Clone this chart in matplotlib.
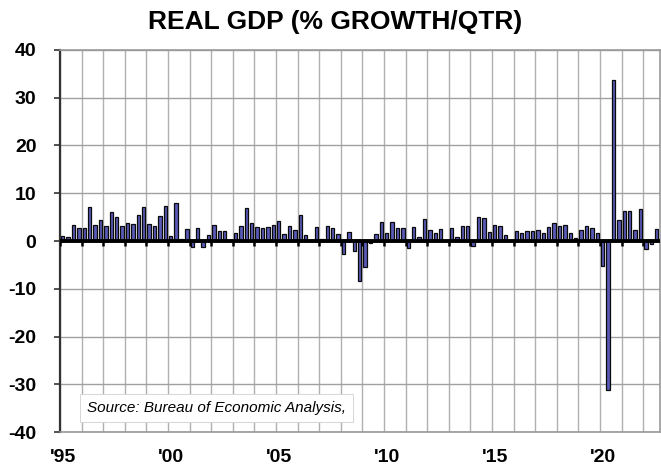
import numpy as np
import pandas as pd
import matplotlib
matplotlib.use("Agg")
import matplotlib.pyplot as plt

plt.rcParams['font.family'] = ['Liberation Sans', 'DejaVu Sans']

# Real GDP, % growth per quarter (annualized), 1995Q1 - 2022Q3
start_quarter = "1995Q1"
gdp_growth = [
    1.0, 0.8, 3.4, 2.8,      # 1995
    2.8, 7.1, 3.4, 4.5,      # 1996
    3.1, 6.0, 5.1, 3.1,      # 1997
    3.8, 3.6, 5.4, 7.1,      # 1998
    3.6, 3.2, 5.2, 7.4,      # 1999
    1.1, 7.9, 0.4, 2.5,      # 2000
    -1.3, 2.7, -1.3, 1.3,    # 2001
    3.4, 2.1, 2.0, 0.3,      # 2002
    1.6, 3.1, 6.9, 3.7,      # 2003
    2.9, 2.8, 2.9, 3.4,      # 2004
    4.1, 1.5, 3.1, 2.2,      # 2005
    5.4, 1.2, 0.3, 2.9,      # 2006
    0.4, 3.1, 2.7, 1.4,      # 2007
    -2.7, 1.9, -2.0, -8.3,   # 2008
    -5.5, -0.5, 1.4, 4.0,    # 2009
    1.7, 4.0, 2.8, 2.8,      # 2010
    -1.5, 3.0, 0.8, 4.6,     # 2011
    2.3, 1.6, 2.5, 0.1,      # 2012
    2.8, 0.8, 3.1, 3.1,      # 2013
    -1.1, 5.1, 4.9, 1.8,     # 2014
    3.3, 3.2, 1.3, 0.2,      # 2015
    2.0, 1.7, 2.1, 2.0,      # 2016
    2.3, 1.6, 2.9, 3.8,      # 2017
    3.1, 3.4, 1.7, 0.7,      # 2018
    2.4, 3.1, 2.7, 1.7,      # 2019
    -5.2, -31.2, 33.8, 4.4,  # 2020
    6.2, 6.3, 2.2, 6.8,      # 2021
    -1.6, -0.6, 2.6,         # 2022
]
label_years = [1995, 2000, 2005, 2010, 2015, 2020]
tick_labels = ["'95", "'00", "'05", "'10", "'15", "'20"]
y_ticks = [-40, -30, -20, -10, 0, 10, 20, 30, 40]
title = "REAL GDP (% GROWTH/QTR)"
source = "Source: Bureau of Economic Analysis,"

periods = pd.period_range(start_quarter, periods=len(gdp_growth), freq="Q")
x = np.array([p.year + (p.quarter - 1) / 4 + 0.125 for p in periods])

fig = plt.figure(figsize=(6.61, 4.65), dpi=100)
ax = fig.add_axes([60 / 661, 1 - 432 / 465, 600 / 661, 382 / 465])

ax.bar(x, gdp_growth, width=0.15, color="#5a5ab8", edgecolor="#0a0a0a",
       linewidth=0.9, zorder=2)

ax.set_xlim(1995, 1995 + 600 / 21.6)
ax.set_ylim(-40, 40)

# grid
ax.set_yticks(y_ticks)
ax.set_yticklabels([str(v) for v in y_ticks], fontsize=14, fontweight="bold")
ax.grid(axis="y", which="major", color="#a0a0a0", linewidth=1.0, zorder=0)

year_lines = np.arange(1995, 2023)
ax.set_xticks(year_lines, minor=True)
ax.grid(axis="x", which="minor", color="#b0b0b0", linewidth=1.0, zorder=0)
ax.set_xticks([y + 0.15 for y in label_years])
ax.set_xticklabels(tick_labels, fontsize=14, fontweight="bold")
ax.tick_params(axis="x", which="both", length=0, pad=12)
ax.tick_params(axis="y", which="major", length=4, width=1.2, color="#333333",
               pad=13)
ax.set_axisbelow(True)

# zero line with year ticks
ax.axhline(0, color="black", linewidth=2.8, zorder=3)
ax.vlines(year_lines, -0.95, 0, colors="black", linewidth=1.8, zorder=3)

for side in ["top", "right", "bottom"]:
    ax.spines[side].set_color("#999999")
    ax.spines[side].set_linewidth(1.2)
ax.spines["left"].set_color("#333333")
ax.spines["left"].set_linewidth(1.6)

fig.text(0.507, 1 - 22 / 465, title, ha="center", va="center",
         fontsize=19, fontweight="bold")

ax.text(1996.25, -35.0, source, fontsize=11, style="italic",
        ha="left", va="center", zorder=4,
        bbox=dict(boxstyle="square,pad=0.45", facecolor="white",
                  edgecolor="#d0d0d0", linewidth=0.6))

fig.savefig("out.png", dpi=100)
